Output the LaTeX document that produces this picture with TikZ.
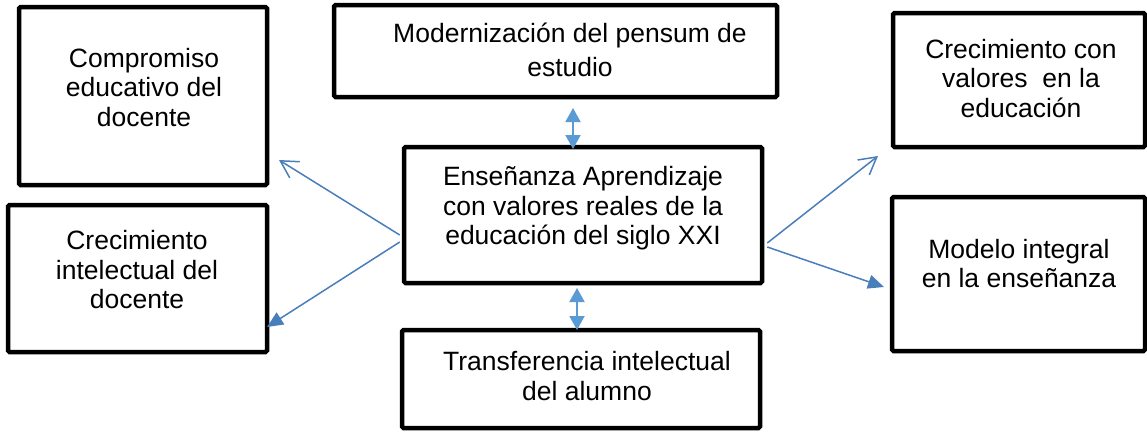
\documentclass[tikz,border=0pt]{standalone}
\usepackage{fontspec}
\setmainfont{Liberation Sans}
\usetikzlibrary{arrows.meta}
\definecolor{linkblue}{HTML}{4A7EBB}
\definecolor{dblblue}{HTML}{5B9BD5}
\begin{document}
\begin{tikzpicture}[x=1pt,y=-1pt,
  boxnode/.style={draw=black, line width=4.5pt, rounded corners=1.5pt, rectangle, inner sep=0pt},
  txt/.style={align=center, font=\fontsize{26.5pt}{29.5pt}\selectfont, inner sep=0pt},
  openarrow/.style={draw=linkblue, line width=1.5pt, -{Straight Barb[length=17pt,width=19pt,line width=1.5pt]}},
  fillarrow/.style={draw=linkblue, line width=1.5pt, -{Triangle[length=16pt,width=14pt]}, fill=linkblue},
  dblarrow/.style={draw=dblblue, line width=2pt, {Triangle[length=14pt,width=15pt]}-{Triangle[length=14pt,width=15pt]}}
]
\useasboundingbox (0,0) rectangle (1147,431);
% boxes
\node[boxnode, minimum width=248pt, minimum height=178pt] (b1) at (143,96) {};
\node[boxnode, minimum width=259pt, minimum height=147pt] (b2) at (137.5,278.5) {};
\node[boxnode, minimum width=443pt, minimum height=92pt] (bt) at (555.5,51) {};
\node[boxnode, minimum width=358pt, minimum height=136pt] (bc) at (583,215) {};
\node[boxnode, minimum width=358pt, minimum height=98pt] (bb) at (581,379) {};
\node[boxnode, minimum width=252pt, minimum height=134pt] (r1) at (1019,80) {};
\node[boxnode, minimum width=253pt, minimum height=154pt] (r2) at (1018.5,274) {};
% texts
\node[txt] (t1) at (144,87.5) {Compromiso\\educativo del\\docente};
\node[txt] (t2) at (137,270) {Crecimiento\\intelectual del\\docente};
\node[txt] (tt) at (570,50) {Modernización del pensum de\\[4pt]estudio};
\node[txt] (tc) at (583,208.5) {Enseñanza Aprendizaje\\con valores reales de la\\educación del siglo XXI};
\node[txt] (tb) at (587,376) {Transferencia intelectual\\del alumno};
\node[txt] (tr1) at (1021,78.5) {Crecimiento con\\valores\ \ en la\\educación};
\node[txt] (tr2) at (1019,263.5) {Modelo integral\\en la enseñanza};
% connector ends
\coordinate (c1) at (279,160);
\coordinate (c2) at (267,327);
\coordinate (c3) at (878,156);
\coordinate (c4) at (884,287);
\coordinate (u1) at (573,108);
\coordinate (u2) at (573,149);
\coordinate (d1) at (577,288);
\coordinate (d2) at (577,330);
% connectors
\draw[openarrow] ([xshift=-2pt,yshift=-20pt]bc.west) -- (c1);
\draw[fillarrow] ([xshift=-2pt,yshift=-27pt]bc.west) -- (c2);
\draw[openarrow] ([xshift=3pt,yshift=-28pt]bc.east) -- (c3);
\draw[fillarrow] ([xshift=3pt,yshift=-32pt]bc.east) -- (c4);
\draw[dblarrow] (u1) -- (u2);
\draw[dblarrow] (d1) -- (d2);
\end{tikzpicture}
\end{document}
